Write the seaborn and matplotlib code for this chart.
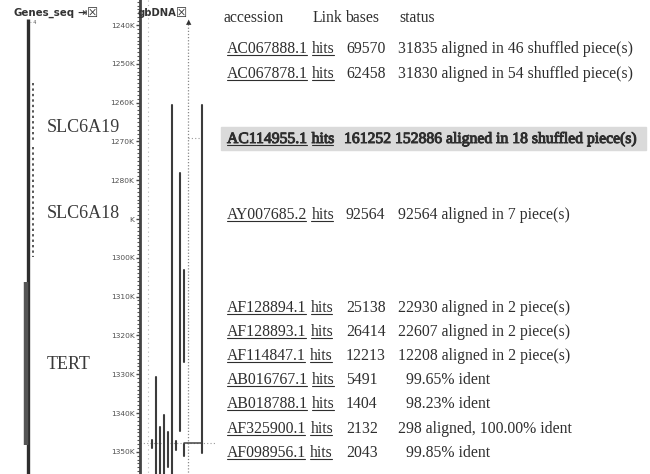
import matplotlib
matplotlib.use("Agg")
import matplotlib.pyplot as plt
import matplotlib.patheffects as pe
import seaborn as sns
import pandas as pd
from matplotlib.lines import Line2D
from matplotlib.patches import Rectangle

# ---------------- data ----------------
TICK_KB = [1240, 1250, 1260, 1270, 1280, 1290, 1300, 1310, 1320, 1330, 1340, 1350]
TICK_LABELS = ["1240K", "1250K", "1260K", "1270K", "1280K", "K", "1300K",
               "1310K", "1320K", "1330K", "1340K", "1350K"]

GENE_NAMES = ["SLC6A19", "SLC6A18", "TERT"]
GENE_START = [1254.9, 1271.5, 1306.2]
GENE_END = [1270.0, 1299.8, 1348.2]
GENE_STRAND = ["+", "+", "-"]

HIT_LANE = [5, 12.5, 7, 8, 1, 3, 2, 4, 0, 6, 8]
HIT_START = [1260.6, 1260.6, 1278.1, 1303.1, 1330.7, 1340.5, 1343.6, 1344.9, 1347.0, 1347.2, 1348.0]
HIT_END = [1356.0, 1350.3, 1344.7, 1326.9, 1356.0, 1356.0, 1356.0, 1354.0, 1349.0, 1349.5, 1351.0]

HEADERS = ["accession", "Link", "bases", "status"]
ACCESSIONS = ["AC067888.1", "AC067878.1", "AC114955.1", "AY007685.2", "AF128894.1",
              "AF128893.1", "AF114847.1", "AB016767.1", "AB018788.1", "AF325900.1",
              "AF098956.1"]
LINKS = ["hits"] * len(ACCESSIONS)
BASES = [69570, 62458, 161252, 92564, 25138, 26414, 12213, 5491, 1404, 2132, 2043]
STATUS = ["31835 aligned in 46 shuffled piece(s)",
          "31830 aligned in 54 shuffled piece(s)",
          "152886 aligned in 18 shuffled piece(s)",
          "92564 aligned in 7 piece(s)",
          "22930 aligned in 2 piece(s)",
          "22607 aligned in 2 piece(s)",
          "12208 aligned in 2 piece(s)",
          "99.65% ident",
          "98.23% ident",
          "298 aligned, 100.00% ident",
          "99.85% ident"]
HIGHLIGHT = "AC114955.1"

# ---------------- layout ----------------
W, H = 650, 474
ROW_Y = [48, 73, 138, 214, 307, 331, 355, 379, 403, 428, 452]
HEADER_X = [223, 313, 345, 399]
ACC_X = 227
BASES_X = [346, 346, 344, 346, 346, 346, 346, 346, 346, 346, 346]
STATUS_X = [398, 398, 395, 398, 398, 398, 398, 406, 406, 398, 406]
GENE_LABEL_KB = [1266.3, 1288.5, 1327.4]
PX_PER_KB = 3.88
Y_TOP = 1240 - 25 / PX_PER_KB
Y_BOT = 1240 + (H - 25) / PX_PER_KB
INK = "#2e2e2e"
SERIF = "Liberation Serif"
FS = 11.3

sns.set_theme(style="white")
plt.rcParams["font.family"] = ["DejaVu Sans"]

fig = plt.figure(figsize=(W / 100, H / 100), dpi=100)
fig.patch.set_facecolor("white")


def fx(x):
    return x / W


def fy(y):
    return 1 - y / H


# ---- gene track axes ----
axg = fig.add_axes([0, 0, 140 / W, 1])
axg.set_xlim(0, 140)
axg.set_ylim(Y_BOT, Y_TOP)
axg.axis("off")
axg.patch.set_alpha(0)
axg.plot([28, 28], [1238.4, Y_BOT], color=INK, lw=2.4, solid_capstyle="butt")
for name, s, e, strand, lk in zip(GENE_NAMES, GENE_START, GENE_END, GENE_STRAND, GENE_LABEL_KB):
    if strand == "+":
        axg.plot([33, 33], [s, e], color="#555555", lw=1.4, ls=(0, (1.2, 1.6)))
    else:
        axg.plot([26, 26], [s, e], color="#555555", lw=3.2, solid_capstyle="butt")
    axg.text(47, lk, name, fontsize=13, family=SERIF, color="#3a3a3a", va="center", ha="left")

# ---- gbDNA track axes with ruler spine ----
axh = fig.add_axes([140 / W, 0, 75 / W, 1])
axh.patch.set_alpha(0)
for side in ["top", "right", "bottom"]:
    axh.spines[side].set_visible(False)
axh.spines["left"].set_color("#444444")
axh.spines["left"].set_linewidth(2.0)

# guide lines
axh.plot([-1, -1], [Y_TOP, Y_BOT], color="#bbbbbb", lw=0.8, ls=(0, (1, 3)))
axh.plot([9, 9], [1239.8, Y_BOT], color="#888888", lw=0.9, ls=(0, (1, 1.5)))
axh.plot([-3, 15.75], [1347.7, 1347.7], color="#999999", lw=0.8, ls=(0, (1, 2)))
axh.plot([8, 12.5], [1347.7, 1347.7], color="#444444", lw=1.1)
axh.plot([9, 12.5], [1269.1, 1269.1], color="#999999", lw=0.8, ls=(0, (1, 2)))

rows = []
for i, (ln, s, e) in enumerate(zip(HIT_LANE, HIT_START, HIT_END)):
    rows.append({"hit": i, "lane": ln, "pos": s})
    rows.append({"hit": i, "lane": ln, "pos": e})
hits = pd.DataFrame(rows)
sns.lineplot(data=hits, x="lane", y="pos", units="hit", estimator=None, sort=False,
             color="#3c3c3c", lw=1.5, ax=axh, legend=False)
axh.set_xlim(-3, 15.75)
axh.set_ylim(Y_BOT, Y_TOP)
axh.set_xlabel("")
axh.set_ylabel("")
axh.set_xticks([])
axh.set_yticks(TICK_KB)
axh.set_yticklabels(TICK_LABELS)
axh.set_yticks([k for k in range(1234, 1356) if k % 10], minor=True)
axh.tick_params(axis="y", which="major", direction="out", length=3, width=1,
                color="#444444", labelsize=5.4, labelcolor="#505050", pad=1, left=True)
axh.tick_params(axis="y", which="minor", direction="out", length=2, width=0.8,
                color="#555555", left=True)

# ---- track headers ----
fig.text(fx(13), fy(13), "Genes_seq", fontsize=7.4, weight="bold", color="#333333",
         va="center", ha="left")
fig.text(fx(77), fy(13), "⇥", fontsize=8, weight="bold", color="#333333", va="center", ha="left")
fig.text(fx(87), fy(13), "☒", fontsize=9, color="#333333", va="center", ha="left")
fig.text(fx(30), fy(23), "- 4", fontsize=3.5, color="#555555", va="center", ha="left")
fig.text(fx(138), fy(13), "gbDNA", fontsize=7.2, weight="bold", color="#333333",
         va="center", ha="left")
fig.text(fx(176), fy(13), "☒", fontsize=9, color="#333333", va="center", ha="left")
fig.text(fx(189), fy(22), "▲", fontsize=5, color="#333333", va="center", ha="center")

# ---- table ----
hi_row = ACCESSIONS.index(HIGHLIGHT)
fig.add_artist(Rectangle((fx(221), fy(150)), (646 - 221) / W, 23 / H,
                         transform=fig.transFigure, color="#dadada", zorder=0))

for hx, htxt in zip(HEADER_X, HEADERS):
    fig.text(fx(hx), fy(22), htxt, fontsize=FS, family=SERIF, color=INK,
             va="baseline", ha="left")

fig.canvas.draw()
renderer = fig.canvas.get_renderer()
inv = fig.transFigure.inverted()


def underline(t, yb):
    bb = t.get_window_extent(renderer)
    x0 = inv.transform([[bb.x0, 0]])[0][0]
    x1 = inv.transform([[bb.x1 - 1, 0]])[0][0]
    fig.add_artist(Line2D([x0, x1], [fy(yb + 2), fy(yb + 2)], transform=fig.transFigure,
                          color=INK, lw=0.8))


bold = [pe.withStroke(linewidth=0.7, foreground=INK)]
for i, (acc, lk, b, st) in enumerate(zip(ACCESSIONS, LINKS, BASES, STATUS)):
    yb = ROW_Y[i] + 5
    kw = dict(fontsize=FS, family=SERIF, color=INK, va="baseline", ha="left")
    if i == hi_row:
        kw["path_effects"] = bold
    ta = fig.text(fx(ACC_X), fy(yb), acc, **kw)
    bb = ta.get_window_extent(renderer)
    tl = fig.text(inv.transform([[bb.x1 + 4, 0]])[0][0], fy(yb), lk, **kw)
    underline(ta, yb)
    underline(tl, yb)
    fig.text(fx(BASES_X[i]), fy(yb), str(b), **kw)
    fig.text(fx(STATUS_X[i]), fy(yb), st, **kw)

fig.savefig("out.png", dpi=100)
